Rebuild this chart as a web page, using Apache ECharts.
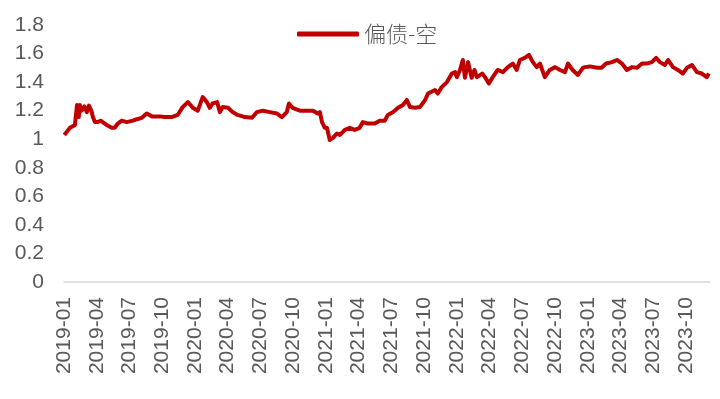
<!DOCTYPE html>
<html>
<head>
<meta charset="utf-8">
<script src="https://cdn.jsdelivr.net/npm/echarts@6/dist/echarts.min.js"></script>
<style>
html,body{margin:0;padding:0;background:#fff;}
#chart{width:720px;height:399px;}
</style>
</head>
<body>
<div id="chart"></div>
<script>
const seriesName = '偏债-空';
const yTicks = [0, 0.2, 0.4, 0.6, 0.8, 1, 1.2, 1.4, 1.6, 1.8];
const dates = [
'2019-01-02','2019-01-04','2019-01-18','2019-02-01','2019-02-07','2019-02-12','2019-02-15','2019-02-20','2019-02-28','2019-03-04',
'2019-03-10','2019-03-18','2019-03-21','2019-03-27','2019-04-04','2019-04-12','2019-04-18','2019-04-29','2019-05-13','2019-05-21',
'2019-05-30','2019-06-10','2019-06-24','2019-07-11','2019-07-22','2019-08-05','2019-08-19','2019-09-03','2019-09-25','2019-10-09',
'2019-10-28','2019-11-14','2019-11-28','2019-12-12','2019-12-26','2020-01-09','2020-01-23','2020-02-04','2020-02-12','2020-02-20',
'2020-03-02','2020-03-10','2020-03-18','2020-04-02','2020-04-15','2020-04-29','2020-05-19','2020-06-08','2020-06-22','2020-07-08',
'2020-07-28','2020-08-17','2020-08-31','2020-09-14','2020-09-20','2020-09-30','2020-10-20','2020-11-09','2020-11-26','2020-12-09',
'2020-12-15','2020-12-21','2020-12-29','2021-01-04','2021-01-12','2021-01-21','2021-02-01','2021-02-10','2021-02-24','2021-03-07',
'2021-03-21','2021-04-04','2021-04-13','2021-04-27','2021-05-16','2021-05-30','2021-06-13','2021-06-22','2021-07-06','2021-07-20',
'2021-08-03','2021-08-14','2021-08-23','2021-09-06','2021-09-20','2021-10-04','2021-10-12','2021-11-01','2021-11-09','2021-11-20',
'2021-12-04','2021-12-18','2021-12-27','2022-01-01','2022-01-10','2022-01-18','2022-01-24','2022-02-02','2022-02-12','2022-02-20',
'2022-02-27','2022-03-11','2022-03-19','2022-03-30','2022-04-10','2022-04-24','2022-05-08','2022-05-22','2022-06-05','2022-06-16',
'2022-06-25','2022-07-08','2022-07-20','2022-07-31','2022-08-11','2022-08-20','2022-09-03','2022-09-17','2022-10-01','2022-10-15',
'2022-10-29','2022-11-07','2022-11-20','2022-12-04','2022-12-18','2022-12-24','2023-01-07','2023-01-27','2023-02-09','2023-02-22',
'2023-03-08','2023-03-22','2023-04-05','2023-04-19','2023-05-03','2023-05-17','2023-05-31','2023-06-14','2023-06-28','2023-07-09',
'2023-07-20','2023-08-03','2023-08-12','2023-08-26','2023-09-09','2023-09-23','2023-10-04','2023-10-18','2023-11-01','2023-11-15',
'2023-11-29','2023-12-04'
];
const values = [
1.03,1.04,1.08,1.10,1.24,1.155,1.24,1.20,1.23,1.19,
1.235,1.19,1.155,1.12,1.12,1.13,1.12,1.10,1.08,1.08,
1.11,1.13,1.12,1.13,1.14,1.15,1.18,1.16,1.16,1.155,
1.155,1.17,1.225,1.26,1.22,1.20,1.295,1.26,1.22,1.25,
1.26,1.19,1.225,1.22,1.19,1.17,1.155,1.15,1.19,1.20,
1.19,1.18,1.155,1.19,1.25,1.22,1.20,1.20,1.20,1.18,
1.19,1.12,1.08,1.08,0.995,1.01,1.04,1.03,1.065,1.08,
1.065,1.08,1.12,1.11,1.11,1.13,1.13,1.17,1.19,1.22,
1.24,1.275,1.225,1.22,1.225,1.275,1.32,1.345,1.32,1.365,
1.40,1.46,1.47,1.435,1.485,1.555,1.43,1.54,1.43,1.485,
1.435,1.46,1.435,1.39,1.435,1.485,1.47,1.505,1.53,1.485,
1.555,1.57,1.59,1.54,1.505,1.53,1.435,1.485,1.505,1.485,
1.47,1.53,1.485,1.45,1.50,1.505,1.51,1.50,1.50,1.53,
1.54,1.555,1.53,1.485,1.505,1.50,1.53,1.53,1.54,1.57,
1.54,1.52,1.555,1.505,1.485,1.46,1.50,1.52,1.47,1.46,
1.435,1.46
];
const startYear = 2019;

function monthOffset(d) {
  const p = d.split('-').map(Number);
  return (p[0] - startYear) * 12 + (p[1] - 1) + (p[2] - 1) / 31;
}
const points = dates.map((d, i) => [monthOffset(d), values[i]]);

const chart = echarts.init(document.getElementById('chart'), null, {renderer: 'canvas'});
const font = '"Liberation Sans", Arial, "Noto Sans CJK SC", sans-serif';
chart.setOption({
  animation: false,
  backgroundColor: '#ffffff',
  textStyle: {fontFamily: font},
  legend: {
    data: [seriesName],
    top: 18,
    left: 292,
    icon: 'roundRect',
    itemWidth: 62,
    itemHeight: 5,
    itemGap: 6,
    textStyle: {fontSize: 22, color: '#595959', fontFamily: '"Noto Sans CJK SC", sans-serif', fontWeight: 300}
  },
  grid: {left: 64, right: 10, top: 25, bottom: 117, containLabel: false},
  xAxis: {
    type: 'value',
    min: 0,
    max: 59.2,
    interval: 3,
    splitLine: {show: false},
    axisTick: {show: false},
    axisLine: {show: true, lineStyle: {color: '#d9d9d9', width: 1.5}},
    axisLabel: {
      rotate: 90,
      fontSize: 21,
      color: '#595959',
      margin: 15,
      showMaxLabel: false,
      formatter: function (v) {
        const y = startYear + Math.floor(v / 12);
        const m = Math.round(v % 12) + 1;
        return y + '-' + (m < 10 ? '0' + m : m);
      }
    }
  },
  yAxis: {
    type: 'value',
    min: yTicks[0],
    max: yTicks[yTicks.length - 1],
    interval: 0.2,
    splitLine: {show: false},
    axisTick: {show: false},
    axisLine: {show: false},
    axisLabel: {fontSize: 21, color: '#595959', margin: 20}
  },
  series: [{
    name: seriesName,
    type: 'line',
    data: points,
    symbol: 'none',
    lineStyle: {color: '#C00000', width: 4, join: 'round'},
    itemStyle: {color: '#C00000'}
  }]
});
</script>
</body>
</html>
